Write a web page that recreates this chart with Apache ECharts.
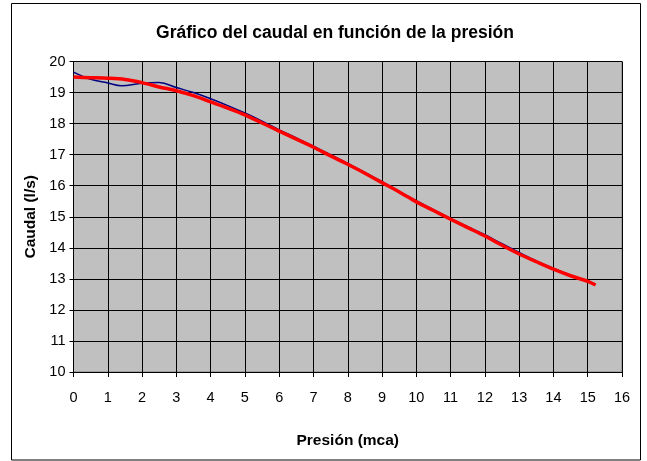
<!DOCTYPE html>
<html>
<head>
<meta charset="utf-8">
<script src="https://cdn.jsdelivr.net/npm/echarts@6/dist/echarts.min.js"></script>
<style>
html,body{margin:0;padding:0;background:#fff;}
#c{width:647px;height:461px;}
</style>
</head>
<body>
<div id="c"></div>
<script>
// Presión (mca) and caudal (l/s) values
const redX = [0, 0.5, 1, 1.5, 2, 2.5, 3, 3.5, 4, 4.5, 5, 5.5, 6, 6.5, 7, 7.5, 8, 8.5, 9, 9.5, 10, 10.5, 11, 11.5, 12, 12.5, 13, 13.5, 14, 14.5, 15, 15.23];
const redY = [19.50, 19.48, 19.46, 19.42, 19.32, 19.18, 19.06, 18.90, 18.70, 18.50, 18.28, 18.02, 17.76, 17.50, 17.24, 16.96, 16.69, 16.40, 16.10, 15.80, 15.48, 15.20, 14.92, 14.65, 14.38, 14.08, 13.80, 13.55, 13.31, 13.10, 12.92, 12.80];
const blueX = [0, 0.5, 1, 1.4, 2, 2.5, 3, 3.5, 4, 4.5, 5, 5.5, 6, 6.5, 7, 7.5, 8, 8.5, 9, 9.5, 10, 10.5, 11, 11.5, 12, 12.5, 13, 13.5, 14, 14.5, 15];
const blueY = [19.66, 19.43, 19.31, 19.22, 19.30, 19.32, 19.16, 19.00, 18.80, 18.58, 18.34, 18.08, 17.80, 17.54, 17.27, 17.00, 16.72, 16.43, 16.13, 15.82, 15.52, 15.23, 14.95, 14.68, 14.42, 14.13, 13.85, 13.58, 13.34, 13.12, 12.93];

const titleText = 'Gráfico del caudal en función de la presión';
const xName = 'Presión (mca)';
const yName = 'Caudal (l/s)';

const pair = (xs, ys) => xs.map((x, i) => [x, ys[i]]);
const FONT = '"Liberation Sans", Arial, sans-serif';

const chart = echarts.init(document.getElementById('c'), null, {renderer: 'canvas'});
chart.setOption({
  animation: false,
  backgroundColor: '#ffffff',
  title: {
    text: titleText,
    left: 330, top: 19, textAlign: 'center',
    textStyle: {fontFamily: FONT, fontWeight: 'bold', fontSize: 17.5, color: '#000'}
  },
  graphic: [{
    type: 'rect', silent: true, z: -1,
    shape: {x: 11.5, y: 3.5, width: 629, height: 456.5},
    style: {fill: 'none', stroke: '#000', lineWidth: 1}
  }],
  grid: {
    left: 73.5, right: 25, top: 61.5, bottom: 89,
    show: true, backgroundColor: '#C0C0C0', borderColor: '#808080', borderWidth: 1
  },
  xAxis: {
    type: 'value', min: 0, max: 16, interval: 1,
    name: xName, nameLocation: 'middle', nameGap: 61,
    nameTextStyle: {fontFamily: FONT, fontWeight: 'bold', fontSize: 15.5, color: '#000'},
    axisLine: {show: true, onZero: false, lineStyle: {color: '#000', width: 1}},
    axisTick: {show: true, length: 5, lineStyle: {color: '#000'}},
    axisLabel: {fontFamily: FONT, fontSize: 14.5, color: '#000', margin: 18},
    splitLine: {show: true, lineStyle: {color: '#000', width: 1}}
  },
  yAxis: {
    type: 'value', min: 10, max: 20, interval: 1,
    name: yName, nameLocation: 'middle', nameGap: 35, nameRotate: 90,
    nameTextStyle: {fontFamily: FONT, fontWeight: 'bold', fontSize: 15.5, color: '#000'},
    axisLine: {show: true, onZero: false, lineStyle: {color: '#000', width: 1}},
    axisTick: {show: true, length: 4, lineStyle: {color: '#000'}},
    axisLabel: {fontFamily: FONT, fontSize: 14.5, color: '#000', margin: 8},
    splitLine: {show: true, lineStyle: {color: '#000', width: 1}}
  },
  series: [
    {
      type: 'line', data: pair(blueX, blueY), showSymbol: false, smooth: 0.4,
      lineStyle: {color: '#000080', width: 1.5}, z: 2
    },
    {
      type: 'line', data: pair(redX, redY), showSymbol: false, smooth: 0.3,
      lineStyle: {color: '#FF0000', width: 3.5}, z: 3
    }
  ]
});
</script>
</body>
</html>
